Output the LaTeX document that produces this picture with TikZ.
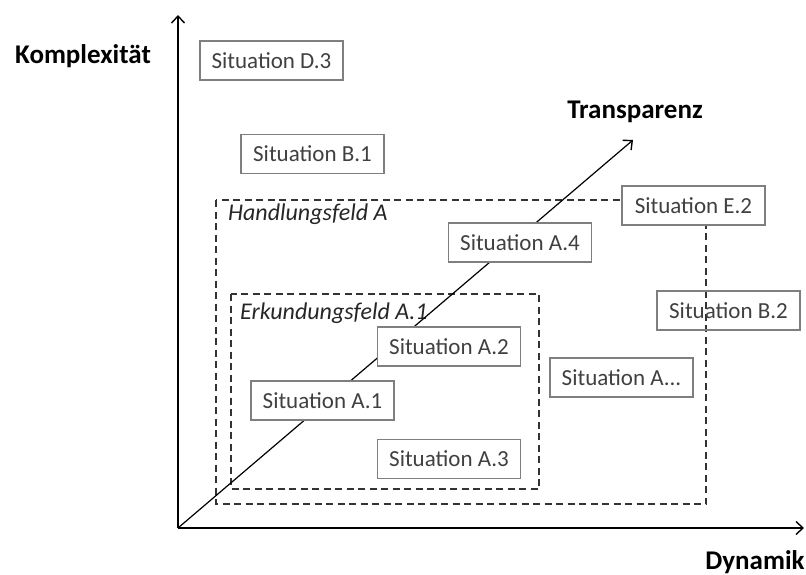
\documentclass[tikz,border=0pt]{standalone}
\usepackage{fontspec}
\setmainfont{Carlito}
\usetikzlibrary{arrows.meta}
\definecolor{boxgray}{HTML}{7F7F7F}
\definecolor{textgray}{HTML}{404040}
\tikzset{
  sitbox/.style={draw=boxgray, line width=1.1pt, fill=white, text=textgray,
    minimum width=143pt, minimum height=39pt, inner sep=0pt, font=\fontsize{23}{26}\selectfont},
  feld/.style={line width=1.6pt, dash pattern=on 7pt off 4.5pt, draw=black!80},
  feldlabel/.style={anchor=west, font=\fontsize{24}{27}\selectfont\itshape, text=black!85, inner sep=0pt},
  axislabel/.style={font=\fontsize{27}{30}\selectfont\bfseries},
  axis/.style={line width=1.2pt, -{Straight Barb[length=7pt,width=13pt,line width=1.4pt]}}
}
\begin{document}
\begin{tikzpicture}[x=1pt,y=-1pt]
  \useasboundingbox (0,0) rectangle (806,575);
  % Axes
  \coordinate (O) at (178,528);
  \coordinate (ytip) at (178,15);
  \coordinate (xtip) at (804,528);
  \coordinate (ztip) at (633,140);
  % Handlungsfeld A
  \draw[feld] (216,200) rectangle (706,504);
  \node[feldlabel] (hfeld) at (228,214) {Handlungsfeld A};
  % Erkundungsfeld A.1
  \draw[feld] (231,294) rectangle (539,489);
  \node[feldlabel] (efeld) at (240,313) {Erkundungsfeld A.1};
  % B.2 lies over the dashed line without fill
  \node[sitbox, fill=none] (b2) at (728.5,310.5) {Situation B.2};
  \draw[axis] (O) -- (ytip);
  \draw[axis] (O) -- (xtip);
  \draw[axis] (O) -- (ztip);
  \node[axislabel] (komp) at (83,56) {Komplexität};
  \node[axislabel] (transp) at (635,112) {Transparenz};
  \node[axislabel] (dyn) at (755,562) {Dynamik};
  % Situations
  \node[sitbox] (d3) at (271.5,60.5) {Situation D.3};
  \node[sitbox] (b1) at (312.5,154) {Situation B.1};
  \node[sitbox] (e2) at (693.5,205.5) {Situation E.2};
  \node[sitbox] (a4) at (520,242.5) {Situation A.4};
  \node[sitbox] (a2) at (449,346.5) {Situation A.2};
  \node[sitbox] (a1) at (322.5,400.5) {Situation A.1};
  \node[sitbox] (a3) at (449,459) {Situation A.3};
  \node[sitbox] (an) at (621.5,377.5) {Situation A...};
\end{tikzpicture}
\end{document}
